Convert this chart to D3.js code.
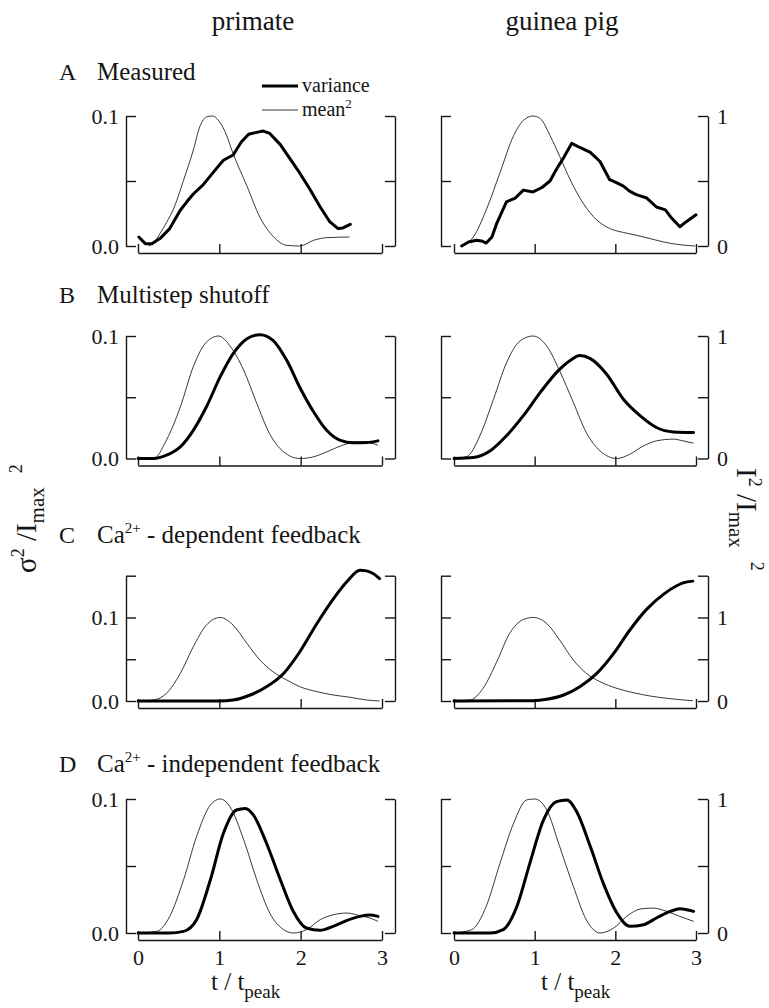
<!DOCTYPE html>
<html>
<head>
<meta charset="utf-8">
<script src="https://cdn.jsdelivr.net/npm/d3@7"></script>
<style>
  body { margin: 0; background: #fff; }
  svg, svg text { font-family: "Liberation Serif", "DejaVu Serif", serif; }
</style>
</head>
<body>
<svg id="chart" width="769" height="1008"></svg>
<script>
// columns, rows, ticks
const columns = ["primate", "guinea pig"];
const panelLetters = ["A", "B", "C", "D"];
const panelTitles = [
  [["Measured"]],
  [["Multistep shutoff"]],
  [["Ca"], ["2+", "sup"], [" - dependent feedback"]],
  [["Ca"], ["2+", "sup"], [" - independent feedback"]]
];
const varMax = [0.1, 0.1, 0.15, 0.1];          // sigma^2 / Imax^2 axis top
const varTicks = [[0, 0.05, 0.1], [0, 0.05, 0.1], [0, 0.05, 0.1, 0.15], [0, 0.05, 0.1]];
const meanTicks = [[0, 0.5, 1], [0, 0.5, 1], [0, 0.5, 1, 1.5], [0, 0.5, 1]];
const xTicks = [0, 1, 2, 3];

// [t/tpeak, value]   variance in sigma^2/Imax^2, mean^2 in I^2/Imax^2
const measuredPrimateVar = [[0.01,0.0069],[0.09,0.0018],[0.17,0.0018],[0.27,0.0057],[0.39,0.0134],[0.52,0.0275],[0.60,0.034],[0.68,0.040],[0.80,0.047],[0.93,0.057],[1.05,0.066],[1.17,0.070],[1.27,0.080],[1.36,0.086],[1.46,0.0874],[1.54,0.0884],[1.62,0.0866],[1.75,0.078],[1.87,0.067],[1.99,0.056],[2.11,0.044],[2.24,0.030],[2.36,0.0185],[2.46,0.0134],[2.52,0.0139],[2.61,0.0167]];
const measuredPrimateMean = [[0.13,0],[0.2,0.03],[0.27,0.095],[0.35,0.18],[0.43,0.275],[0.56,0.506],[0.68,0.738],[0.76,0.918],[0.85,0.995],[0.92,1.0],[0.97,0.98],[1.07,0.88],[1.17,0.71],[1.34,0.46],[1.5,0.22],[1.66,0.075],[1.83,0.005],[1.99,0],[2.16,0.044],[2.32,0.064],[2.6,0.069]];
const measuredGuineaVar = [[0.095,0],[0.18,0.0031],[0.28,0.0044],[0.34,0.0039],[0.40,0.0023],[0.47,0.007],[0.53,0.0174],[0.65,0.034],[0.76,0.0369],[0.86,0.043],[0.98,0.0416],[1.09,0.045],[1.19,0.050],[1.27,0.059],[1.36,0.068],[1.46,0.079],[1.56,0.0758],[1.69,0.072],[1.81,0.065],[1.93,0.051],[2.02,0.0486],[2.10,0.046],[2.18,0.042],[2.26,0.0395],[2.39,0.0369],[2.51,0.030],[2.62,0.0278],[2.70,0.0213],[2.80,0.0148],[2.88,0.0187],[3.0,0.024]];
const measuredGuineaMean = [[0.095,0],[0.24,0.07],[0.40,0.278],[0.57,0.564],[0.74,0.85],[0.86,0.966],[0.98,1.0],[1.07,0.98],[1.19,0.85],[1.31,0.69],[1.44,0.51],[1.60,0.33],[1.77,0.20],[1.93,0.135],[2.10,0.104],[2.26,0.083],[2.43,0.057],[2.6,0.031],[2.76,0.013],[2.99,0]];

const multistepPrimateVar = [[0,0],[0.19,0],[0.35,0.0027],[0.52,0.0095],[0.68,0.023],[0.84,0.042],[1.01,0.0666],[1.17,0.0856],[1.34,0.0978],[1.5,0.1011],[1.66,0.0965],[1.83,0.080],[1.99,0.058],[2.16,0.038],[2.32,0.023],[2.48,0.015],[2.65,0.0128],[2.81,0.013],[2.95,0.0144]];
const multistepPrimateMean = [[0,0],[0.19,0],[0.35,0.15],[0.52,0.42],[0.68,0.75],[0.84,0.95],[0.99,1.0],[1.13,0.92],[1.30,0.72],[1.46,0.45],[1.62,0.20],[1.79,0.054],[1.99,0],[2.16,0.014],[2.32,0.054],[2.52,0.109],[2.69,0.136],[2.85,0.128],[2.95,0.109]];
const multistepGuineaVar = [[0,0],[0.24,0.0008],[0.45,0.0063],[0.65,0.0185],[0.86,0.035],[1.07,0.054],[1.29,0.0715],[1.44,0.080],[1.56,0.084],[1.69,0.0815],[1.89,0.069],[2.10,0.0484],[2.31,0.0348],[2.51,0.0253],[2.72,0.0217],[2.97,0.0212]];
const multistepGuineaMean = [[0,0],[0.16,0.016],[0.32,0.185],[0.49,0.484],[0.65,0.78],[0.82,0.96],[0.98,1.0],[1.15,0.918],[1.31,0.715],[1.48,0.457],[1.64,0.212],[1.81,0.0625],[2.02,0],[2.18,0.035],[2.35,0.103],[2.51,0.144],[2.72,0.158],[2.84,0.144],[2.97,0.125]];

const caDepPrimateVar = [[0,0],[1.0,0],[1.17,0.0012],[1.38,0.0072],[1.58,0.0171],[1.79,0.033],[1.99,0.059],[2.20,0.0928],[2.40,0.122],[2.57,0.143],[2.73,0.1566],[2.81,0.1558],[2.89,0.1526],[2.97,0.1466]];
const caDepPrimateMean = [[0,0],[0.19,0.012],[0.35,0.092],[0.52,0.33],[0.68,0.65],[0.84,0.908],[1.01,1.0],[1.17,0.908],[1.34,0.689],[1.50,0.49],[1.66,0.35],[1.83,0.251],[1.99,0.171],[2.20,0.112],[2.40,0.072],[2.61,0.044],[2.81,0.012],[2.97,0]];
const caDepGuineaVar = [[0,0],[0.98,0.0004],[1.15,0.002],[1.36,0.0072],[1.56,0.0171],[1.77,0.033],[1.98,0.057],[2.18,0.085],[2.39,0.110],[2.60,0.128],[2.76,0.138],[2.84,0.1415],[2.96,0.1435]];
const caDepGuineaMean = [[0,0],[0.2,0.012],[0.36,0.151],[0.53,0.47],[0.69,0.81],[0.86,0.976],[0.98,1.0],[1.15,0.928],[1.31,0.729],[1.48,0.49],[1.64,0.331],[1.81,0.231],[2.02,0.151],[2.22,0.10],[2.43,0.06],[2.64,0.032],[2.84,0.012],[2.96,0.004]];

const caIndPrimateVar = [[0,0],[0.39,0],[0.56,0.0012],[0.72,0.0099],[0.89,0.0397],[1.05,0.0744],[1.21,0.0918],[1.32,0.093],[1.42,0.088],[1.58,0.067],[1.75,0.0397],[1.91,0.016],[2.07,0.0037],[2.24,0.002],[2.40,0.005],[2.57,0.0094],[2.73,0.0124],[2.85,0.0134],[2.95,0.0124]];
const caIndPrimateMean = [[0,0],[0.23,0.012],[0.39,0.124],[0.56,0.397],[0.72,0.72],[0.89,0.955],[1.01,1.0],[1.13,0.943],[1.30,0.695],[1.46,0.397],[1.62,0.149],[1.79,0.025],[1.91,0],[2.07,0.025],[2.24,0.099],[2.40,0.136],[2.57,0.149],[2.73,0.129],[2.85,0.112],[2.95,0.087]];
const caIndGuineaVar = [[0,0],[0.45,0],[0.61,0.0025],[0.78,0.0199],[0.94,0.052],[1.11,0.0844],[1.27,0.098],[1.40,0.0993],[1.52,0.0906],[1.69,0.0645],[1.85,0.0372],[2.02,0.0149],[2.18,0.005],[2.35,0.0062],[2.51,0.0112],[2.68,0.0161],[2.80,0.0181],[2.97,0.0161]];
const caIndGuineaMean = [[0,0],[0.22,0.025],[0.40,0.2],[0.57,0.52],[0.74,0.82],[0.90,0.993],[1.0,1.0],[1.15,0.918],[1.31,0.645],[1.48,0.347],[1.64,0.099],[1.81,0],[1.98,0.037],[2.14,0.124],[2.31,0.179],[2.47,0.186],[2.64,0.161],[2.80,0.124],[2.97,0.087]];

const panels = [
  [[measuredPrimateVar, measuredPrimateMean], [measuredGuineaVar, measuredGuineaMean]],
  [[multistepPrimateVar, multistepPrimateMean], [multistepGuineaVar, multistepGuineaMean]],
  [[caDepPrimateVar, caDepPrimateMean], [caDepGuineaVar, caDepGuineaMean]],
  [[caIndPrimateVar, caIndPrimateMean], [caIndGuineaVar, caIndGuineaMean]]
];

// layout
const FONT = "Liberation Serif, DejaVu Serif, serif";
const colBox = [
  { axL: 126, axR: 395, x0: 138, x3: 382, head: 253, tLabel: 211 },
  { axL: 441, axR: 708, x0: 454, x3: 696, head: 562, tLabel: 541 }
];
const rowBox = [
  { top: 116, bot: 246, title: 80 },
  { top: 336, bot: 458.5, title: 303 },
  { top: 575.7, bot: 701, title: 543 },
  { top: 799, bot: 933, title: 772 }
];

const svg = d3.select("#chart").attr("font-family", FONT);
svg.append("rect").attr("width", 769).attr("height", 1008).attr("fill", "#fff");

function styleAxis(g) {
  g.attr("font-family", FONT);
  g.selectAll("path, line").attr("stroke", "#151515").attr("stroke-width", 1.4);
  g.selectAll("text")
    .attr("font-family", FONT)
    .attr("font-size", 22)
    .attr("fill", "#151515");
}

// column headers
svg.selectAll(".head").data(columns).join("text")
  .attr("x", (d, i) => colBox[i].head)
  .attr("y", 30)
  .attr("text-anchor", "middle")
  .attr("font-family", FONT)
  .attr("font-size", 27)
  .attr("fill", "#151515")
  .text(d => d);

// panel titles
rowBox.forEach((rb, r) => {
  svg.append("text").attr("x", 59).attr("y", rb.title).attr("font-family", FONT)
    .attr("font-size", 24).attr("fill", "#151515").text(panelLetters[r]);
  const t = svg.append("text").attr("x", 97).attr("y", rb.title).attr("font-family", FONT)
    .attr("font-size", 25).attr("fill", "#151515");
  let shifted = false;
  panelTitles[r].forEach(seg => {
    const ts = t.append("tspan").text(seg[0]);
    if (seg[1] === "sup") { ts.attr("dy", -10).attr("font-size", 15); shifted = true; }
    else if (shifted) { ts.attr("dy", 10); shifted = false; }
  });
});

const lineOf = (x, y) => d3.line().x(d => x(d[0])).y(d => y(d[1]));

panels.forEach((row, r) => {
  const rb = rowBox[r];
  row.forEach((pair, c) => {
    const cb = colBox[c];
    const x = d3.scaleLinear().domain([0, 3]).range([cb.x0, cb.x3]);
    const yL = d3.scaleLinear().domain([0, varMax[r]]).range([rb.bot, rb.top]);
    const yR = d3.scaleLinear().domain([0, varMax[r] * 10]).range([rb.bot, rb.top]);
    const g = svg.append("g");

    const fmtVar = d => (d === 0 ? "0.0" : d === 0.1 ? "0.1" : "");
    const fmtMean = d => (d === 0 ? "0" : d === 1 ? "1" : "");

    g.append("g").attr("transform", `translate(${cb.axL},0)`)
      .call(d3.axisLeft(yL).tickValues(varTicks[r]).tickSizeInner(-10).tickSizeOuter(0)
        .tickPadding(7).tickFormat(c === 0 ? fmtVar : () => ""))
      .call(styleAxis);

    g.append("g").attr("transform", `translate(${cb.axR},0)`)
      .call(d3.axisRight(yR).tickValues(meanTicks[r]).tickSizeInner(-10).tickSizeOuter(0)
        .tickPadding(9).tickFormat(c === 1 ? fmtMean : () => ""))
      .call(styleAxis);

    g.append("g").attr("transform", `translate(0,${rb.bot + 7})`)
      .call(d3.axisBottom(x).tickValues(xTicks).tickSizeInner(-9).tickSizeOuter(0)
        .tickPadding(9).tickFormat(r === 3 ? d3.format("d") : () => ""))
      .call(styleAxis);

    const thickCurve = r === 0 ? d3.curveLinear : d3.curveMonotoneX;
    g.append("path").datum(pair[1])
      .attr("fill", "none").attr("stroke", "#222").attr("stroke-width", 0.9)
      .attr("d", lineOf(x, yR).curve(d3.curveMonotoneX));
    g.append("path").datum(pair[0])
      .attr("fill", "none").attr("stroke", "#000").attr("stroke-width", 3)
      .attr("stroke-linejoin", "round").attr("stroke-linecap", "round")
      .attr("d", lineOf(x, yL).curve(thickCurve));
  });
});

// legend
const legend = svg.append("g").attr("font-family", FONT);
legend.append("line").attr("x1", 262).attr("x2", 298).attr("y1", 86).attr("y2", 86)
  .attr("stroke", "#000").attr("stroke-width", 3);
legend.append("text").attr("x", 302).attr("y", 92).attr("font-size", 20).attr("fill", "#151515").text("variance");
legend.append("line").attr("x1", 262).attr("x2", 298).attr("y1", 110).attr("y2", 110)
  .attr("stroke", "#222").attr("stroke-width", 0.9);
const mt = legend.append("text").attr("x", 302).attr("y", 116).attr("font-size", 20).attr("fill", "#151515");
mt.append("tspan").text("mean");
mt.append("tspan").attr("dy", -8).attr("font-size", 13).text("2");

// x labels
colBox.forEach(cb => {
  const t = svg.append("text").attr("x", cb.tLabel).attr("y", 990).attr("font-family", FONT)
    .attr("font-size", 25).attr("fill", "#151515");
  t.append("tspan").text("t / t");
  t.append("tspan").attr("dy", 8).attr("font-size", 19).text("peak");
});

// y labels
const yl = svg.append("text").attr("transform", "translate(36,573) rotate(-90)")
  .attr("font-family", FONT).attr("font-size", 29).attr("fill", "#151515");
yl.append("tspan").text("σ");
yl.append("tspan").attr("dy", -12).attr("font-size", 18).text("2");
yl.append("tspan").attr("dy", 12).text(" /I");
yl.append("tspan").attr("dy", 8).attr("font-size", 21).text("max");
yl.append("tspan").attr("dy", -22).attr("dx", 14).attr("font-size", 18).text("2");

const yr = svg.append("text").attr("transform", "translate(737,468) rotate(90)")
  .attr("font-family", FONT).attr("font-size", 29).attr("fill", "#151515");
yr.append("tspan").text("I");
yr.append("tspan").attr("dy", -12).attr("font-size", 18).text("2");
yr.append("tspan").attr("dy", 12).text(" /I");
yr.append("tspan").attr("dy", 8).attr("font-size", 21).text("max");
yr.append("tspan").attr("dy", -22).attr("dx", 14).attr("font-size", 18).text("2");
</script>
</body>
</html>
